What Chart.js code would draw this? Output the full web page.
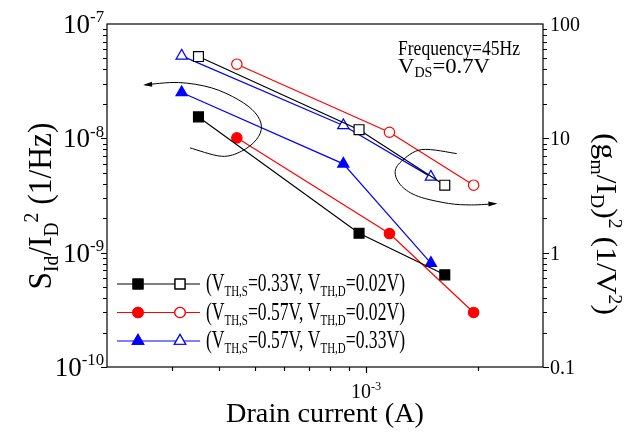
<!DOCTYPE html>
<html>
<head>
<meta charset="utf-8">
<script src="https://cdn.jsdelivr.net/npm/chart.js@4.4.0/dist/chart.umd.min.js"></script>
<style>
  html, body { margin: 0; padding: 0; background: #fff; }
  canvas { display: block; }
</style>
</head>
<body>
<canvas id="chart" width="637" height="435"></canvas>
<script>
// Drain current (A) for each bias condition
const currentBlack = [3.53e-4, 9.57e-4, 1.63e-3];
const currentRed = [4.48e-4, 1.156e-3, 1.95e-3];
const currentBlue = [3.18e-4, 8.68e-4, 1.495e-3];

// S_Id / I_D^2 (1/Hz) - filled symbols, left axis
const noiseBlack = [1.54e-8, 1.48e-9, 6.4e-10];
const noiseRed = [1.01e-8, 1.47e-9, 3.0e-10];
const noiseBlue = [2.52e-8, 5.98e-9, 8.1e-10];

// (gm / I_D)^2 (1/V^2) - open symbols, right axis
const gmBlack = [51.9, 11.9, 3.89];
const gmRed = [44.5, 11.3, 3.89];
const gmBlue = [52.6, 12.97, 4.6];

const seriesLabels = [
    [["(V"], ["TH,S", "sub"], ["=0.33V, V"], ["TH,D", "sub"], ["=0.02V)"]],
    [["(V"], ["TH,S", "sub"], ["=0.57V, V"], ["TH,D", "sub"], ["=0.02V)"]],
    [["(V"], ["TH,S", "sub"], ["=0.57V, V"], ["TH,D", "sub"], ["=0.33V)"]],
];
const seriesColors = ["#000000", "#ff0000", "#0000ff"];
const seriesShapes = ["rect", "circle", "triangle"];

const leftTicks = [1e-10, 1e-9, 1e-8, 1e-7];
const leftTickLabels = ["-10", "-9", "-8", "-7"];
const rightTicks = [0.1, 1, 10, 100];
const rightTickLabels = ["0.1", "1", "10", "100"];

// guide curves (log10 current, log10 noise), drawn on x / left y scales
const curveLeft = [[-3.4748, -8.0837], [-3.3903, -8.1569], [-3.3364, -8.1133], [-3.2959, -8.0113],
    [-3.2824, -7.8954], [-3.2994, -7.7759], [-3.3445, -7.6626], [-3.4173, -7.5580],
    [-3.5063, -7.5118], [-3.5962, -7.5318]];
const curveRight = [[-2.7556, -8.1334], [-2.85, -8.0985], [-2.9048, -8.2005], [-2.9218, -8.3016],
    [-2.904, -8.4185], [-2.8589, -8.5083], [-2.778, -8.5693], [-2.7159, -8.5824], [-2.6512, -8.5719]];

const FONT = '"Liberation Serif", "Times New Roman", serif';
const pts = (xs, ys) => xs.map((x, i) => ({ x: x, y: ys[i] }));

function makeSet(xs, ys, i, open) {
    const shape = seriesShapes[i];
    return {
        data: pts(xs, ys),
        yAxisID: open ? "y1" : "y",
        borderColor: seriesColors[i],
        borderWidth: 1.2,
        pointStyle: shape,
        pointRadius: shape === "rect" ? 7 : shape === "triangle" ? 6.5 : 5.2,
        pointBackgroundColor: open ? "#ffffff" : seriesColors[i],
        pointBorderColor: seriesColors[i],
        pointBorderWidth: 1.2,
        fill: false,
        tension: 0,
    };
}

// text with sub/superscripts, squeezed to a given width
function drawRich(ctx, parts, x, y, size, width, align) {
    let natural = 0;
    for (const p of parts) {
        ctx.font = (p[1] ? size * 0.62 : size) + "px " + FONT;
        natural += ctx.measureText(p[0]).width;
    }
    const k = width ? width / natural : 1;
    ctx.save();
    ctx.translate(x, y);
    ctx.scale(k, 1);
    let cx = align === "center" ? -natural / 2 : align === "right" ? -natural : 0;
    ctx.textAlign = "left";
    ctx.textBaseline = "alphabetic";
    for (const p of parts) {
        ctx.font = (p[1] ? size * 0.62 : size) + "px " + FONT;
        const dy = p[1] === "sub" ? size * 0.2 : p[1] === "sup" ? -size * 0.4 : 0;
        ctx.fillText(p[0], cx, dy);
        cx += ctx.measureText(p[0]).width;
    }
    ctx.restore();
}

function drawCurve(ctx, chart, curve) {
    const xs = chart.scales.x, ys = chart.scales.y;
    const p = curve.map(c => [xs.getPixelForValue(Math.pow(10, c[0])), ys.getPixelForValue(Math.pow(10, c[1]))]);
    ctx.beginPath();
    ctx.moveTo(p[0][0], p[0][1]);
    for (let i = 0; i < p.length - 1; i++) {
        const p0 = p[Math.max(i - 1, 0)], p1 = p[i], p2 = p[i + 1], p3 = p[Math.min(i + 2, p.length - 1)];
        ctx.bezierCurveTo(p1[0] + (p2[0] - p0[0]) / 6, p1[1] + (p2[1] - p0[1]) / 6,
            p2[0] - (p3[0] - p1[0]) / 6, p2[1] - (p3[1] - p1[1]) / 6, p2[0], p2[1]);
    }
    ctx.stroke();
    const a = p[p.length - 2], b = p[p.length - 1];
    const ang = Math.atan2(b[1] - a[1], b[0] - a[0]);
    ctx.save();
    ctx.translate(b[0], b[1]);
    ctx.rotate(ang);
    ctx.beginPath();
    ctx.moveTo(2, 0);
    ctx.lineTo(-7, -2.5);
    ctx.lineTo(-7, 2.5);
    ctx.closePath();
    ctx.fill();
    ctx.restore();
}

const decor = {
    id: "decor",
    afterDraw(chart) {
        const ctx = chart.ctx;
        const a = chart.chartArea;
        const sx = chart.scales.x, sy = chart.scales.y, sy1 = chart.scales.y1;
        ctx.save();
        ctx.strokeStyle = "#000";
        ctx.fillStyle = "#000";
        ctx.lineWidth = 1.2;
        ctx.strokeRect(a.left, a.top, a.right - a.left, a.bottom - a.top);

        // ticks
        ctx.beginPath();
        for (let d = -10; d < -7; d++) {
            for (let m = 1; m < 10; m++) {
                const y = Math.round(sy.getPixelForValue(m * Math.pow(10, d))) + 0.5;
                const len = m === 1 ? 6 : 4;
                ctx.moveTo(a.left, y); ctx.lineTo(a.left - len, y);
            }
        }
        for (let d = -1; d < 2; d++) {
            for (let m = 1; m < 10; m++) {
                const y = Math.round(sy1.getPixelForValue(m * Math.pow(10, d))) + 0.5;
                const len = m === 1 ? 6 : 4;
                ctx.moveTo(a.right, y); ctx.lineTo(a.right + len, y);
            }
        }
        for (const v of [3e-4, 4e-4, 5e-4, 6e-4, 7e-4, 8e-4, 9e-4, 1e-3, 2e-3]) {
            const x = Math.round(sx.getPixelForValue(v)) + 0.5;
            const len = v === 1e-3 ? 6 : 4;
            ctx.moveTo(x, a.bottom); ctx.lineTo(x, a.bottom + len);
        }
        ctx.stroke();

        // tick labels
        leftTicks.forEach((v, i) => {
            const y = sy.getPixelForValue(v);
            drawRich(ctx, [["10"], [leftTickLabels[i], "sup"]], 104, y + 9, 27, null, "right");
        });
        rightTicks.forEach((v, i) => {
            const y = sy1.getPixelForValue(v);
            drawRich(ctx, [[rightTickLabels[i]]], 550, y + 7, 20, null, "left");
        });
        drawRich(ctx, [["10"], ["-3", "sup"]], sx.getPixelForValue(1e-3), 398, 20, null, "center");

        // axis titles
        drawRich(ctx, [["Drain current (A)"]], 325, 422, 28, 198, "center");
        ctx.save();
        ctx.translate(51, 206);
        ctx.rotate(-Math.PI / 2);
        drawRich(ctx, [["S"], ["Id", "sub"], ["/I"], ["D", "sub"], ["2", "sup"], [" (1/Hz)"]], 0, 0, 33, 167, "center");
        ctx.restore();
        ctx.save();
        ctx.translate(597, 224);
        ctx.rotate(Math.PI / 2);
        drawRich(ctx, [["(g"], ["m", "sub"], ["/I"], ["D", "sub"], [")"], ["2", "sup"], [" (1/V"], ["2", "sup"], [")"]], 0, 0, 30, 182, "center");
        ctx.restore();

        // conditions
        drawRich(ctx, [["Frequency=45Hz"]], 398, 55, 22, 122, "left");
        drawRich(ctx, [["V"], ["DS", "sub"], ["=0.7V"]], 398, 73, 22, 92, "left");

        // guide curves
        ctx.lineWidth = 1;
        drawCurve(ctx, chart, curveLeft);
        drawCurve(ctx, chart, curveRight);

        // legend
        const rows = [284, 312.5, 341];
        rows.forEach((y, i) => {
            const ds = chart.data.datasets[i * 2];
            ctx.strokeStyle = seriesColors[i];
            ctx.lineWidth = 1.2;
            ctx.beginPath();
            ctx.moveTo(117, y); ctx.lineTo(200, y);
            ctx.stroke();
            const r = ds.pointRadius;
            Chart.helpers.drawPoint(ctx, { pointStyle: seriesShapes[i], radius: r, borderWidth: 1.2 }, 138, y);
            ctx.fillStyle = seriesColors[i];
            ctx.fill();
            ctx.stroke();
            ctx.fillStyle = "#fff";
            Chart.helpers.drawPoint(ctx, { pointStyle: seriesShapes[i], radius: r, borderWidth: 1.2 }, 180, y);
            ctx.fill();
            ctx.stroke();
            ctx.fillStyle = "#000";
            drawRich(ctx, seriesLabels[i], 206, y + 7, 25, 199, "left");
        });
        ctx.restore();
    },
};

const hiddenScale = (extra) => Object.assign({
    type: "logarithmic",
    grid: { display: false },
    border: { display: false },
    ticks: { display: false },
}, extra);

new Chart(document.getElementById("chart"), {
    type: "line",
    data: {
        datasets: [
            makeSet(currentBlack, noiseBlack, 0, false),
            makeSet(currentBlack, gmBlack, 0, true),
            makeSet(currentRed, noiseRed, 1, false),
            makeSet(currentRed, gmRed, 1, true),
            makeSet(currentBlue, noiseBlue, 2, false),
            makeSet(currentBlue, gmBlue, 2, true),
        ],
    },
    options: {
        responsive: false,
        animation: false,
        devicePixelRatio: 1,
        layout: { padding: { left: 107, right: 94, top: 24, bottom: 68 } },
        plugins: { legend: { display: false }, tooltip: { enabled: false } },
        scales: {
            x: hiddenScale({ min: 2e-4, max: 3e-3, afterFit: s => { s.height = 0; } }),
            y: hiddenScale({ position: "left", min: 1e-10, max: 1e-7, afterFit: s => { s.width = 0; } }),
            y1: hiddenScale({ position: "right", min: 0.1, max: 100, afterFit: s => { s.width = 0; } }),
        },
    },
    plugins: [decor],
});
</script>
</body>
</html>
